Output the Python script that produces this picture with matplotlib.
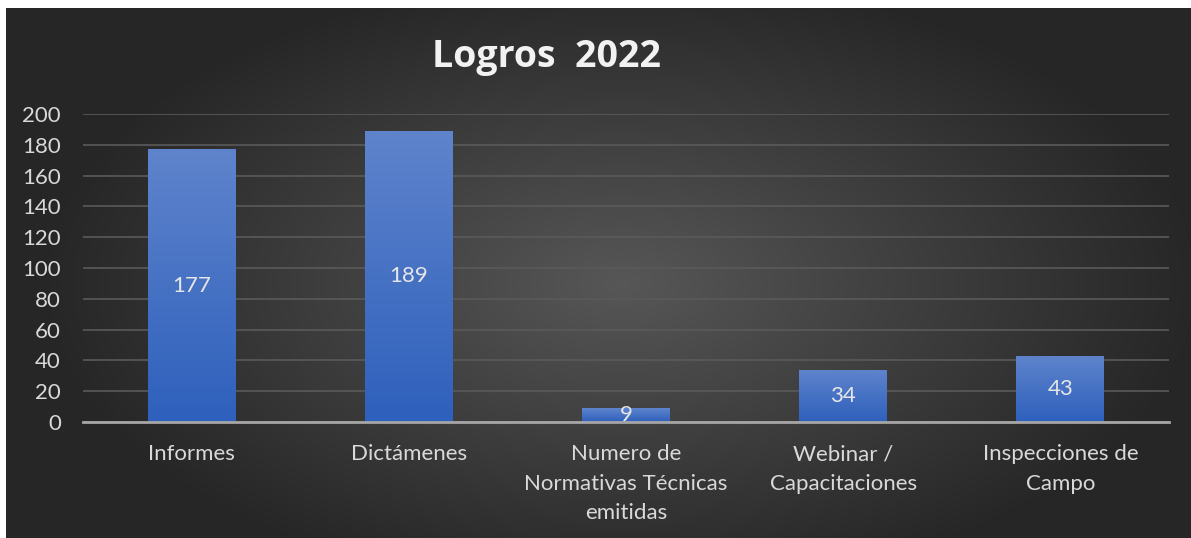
import matplotlib
matplotlib.use('Agg')
import matplotlib.pyplot as plt
import numpy as np

# data
categories = ['Informes', 'Dictámenes', 'Numero de\nNormativas Técnicas\nemitidas',
              'Webinar /\nCapacitaciones', 'Inspecciones de\nCampo']
values = [177, 189, 9, 34, 43]
yticks = list(range(0, 201, 20))
title = 'Logros  2022'

plt.rcParams['font.family'] = ['Lato', 'DejaVu Sans']

W, H = 1191, 538
fig = plt.figure(figsize=(W / 100, H / 100), dpi=100, facecolor='white')

# dark radial background panel
bg = fig.add_axes([6 / W, 0, 1 - 6 / W, 530 / H], zorder=-1)
yy, xx = np.mgrid[0:1:300j, 0:1:600j]
r = np.sqrt(((xx - 0.52) / 0.75) ** 2 + ((yy - 0.52) / 0.9) ** 2)
shade = np.clip(0.34 - 0.29 * r, 0.15, 0.34)
bg.imshow(np.dstack([shade] * 3), aspect='auto', extent=[0, 1, 0, 1])
bg.set_axis_off()

ax = fig.add_axes([83 / W, 1 - 422 / H, (1169 - 83) / W, (422 - 114) / H])
ax.set_facecolor('none')

x = np.arange(len(categories))
width = 0.405
bars = ax.bar(x, values, width, color='none', zorder=3)

# vertical gradient inside each bar
grad = np.linspace(0, 1, 256).reshape(-1, 1)
top_c = np.array([0x5f, 0x84, 0xcc]) / 255
bot_c = np.array([0x2e, 0x60, 0xbc]) / 255
for rect in bars:
    x0, w, h = rect.get_x(), rect.get_width(), rect.get_height()
    img = bot_c + grad[..., None] * (top_c - bot_c)
    im = ax.imshow(img, extent=[x0, x0 + w, 0, h], origin='lower',
                   aspect='auto', zorder=3)
    im.set_clip_path(rect)
    ax.annotate(str(int(h)), xy=(x0 + w / 2, h / 2), ha='center', va='center',
                color='#e6e6e6', fontsize=16, zorder=4)

ax.set_xlim(-0.5, len(categories) - 0.5)
ax.set_ylim(0, 200)
ax.set_yticks(yticks)
ax.set_xticks(x)
ax.set_xticklabels(categories, linespacing=1.6)
ax.tick_params(axis='both', length=0, colors='#d9d9d9', labelsize=16)
ax.tick_params(axis='x', pad=16)
ax.tick_params(axis='y', pad=16)
ax.yaxis.grid(True, color='#5a5a5a', linewidth=1.2, zorder=0)
ax.set_axisbelow(True)
for side in ['top', 'right', 'left']:
    ax.spines[side].set_visible(False)
ax.spines['bottom'].set_color('#a6a6a6')
ax.spines['bottom'].set_linewidth(2)
ax.spines['bottom'].set_zorder(5)

fig.text(547 / W, 1 - 57 / H, title, ha='center', va='center', color='#f2f2f2',
         fontsize=27, fontweight='bold', family=['Open Sans', 'DejaVu Sans'])

plt.savefig('out.png', dpi=100, facecolor='white')
